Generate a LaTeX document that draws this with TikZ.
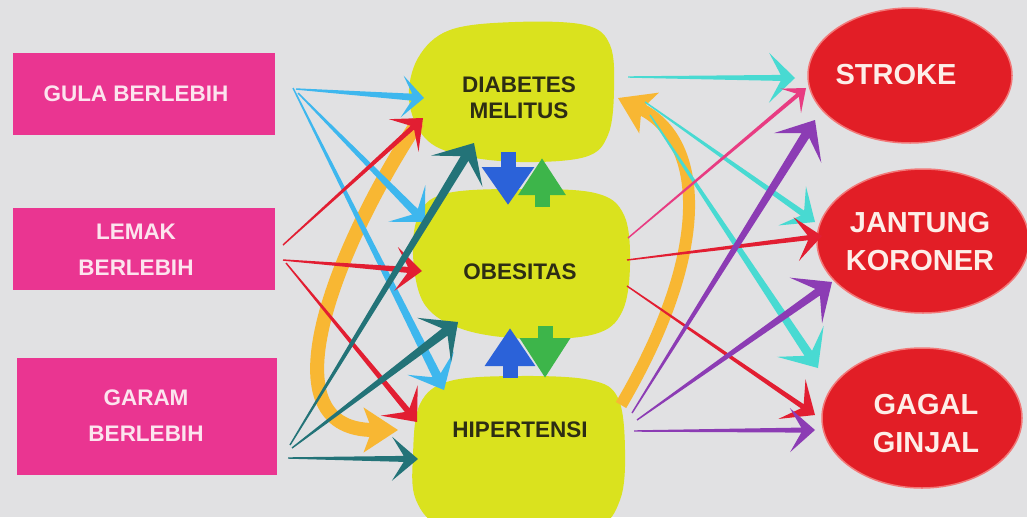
\documentclass[tikz,border=0pt]{standalone}
\usepackage{fontspec}
\setmainfont{Liberation Sans}
\usetikzlibrary{calc,shapes.geometric,arrows.meta}

\definecolor{bg}{RGB}{225,225,227}
\definecolor{pinkbox}{RGB}{234,53,145}
\definecolor{pinktxt}{RGB}{252,228,238}
\definecolor{blobc}{RGB}{218,226,30}
\definecolor{blobtxt}{RGB}{45,45,20}
\definecolor{redell}{RGB}{226,30,38}
\definecolor{redrim}{RGB}{242,120,120}
\definecolor{elltxt}{RGB}{253,238,232}
\definecolor{skyA}{RGB}{62,183,238}
\definecolor{redA}{RGB}{226,30,50}
\definecolor{tealA}{RGB}{35,115,120}
\definecolor{orangeA}{RGB}{248,183,51}
\definecolor{cyanA}{RGB}{72,218,210}
\definecolor{pinkA}{RGB}{232,60,130}
\definecolor{purpleA}{RGB}{140,60,180}
\definecolor{blueB}{RGB}{43,98,217}
\definecolor{greenB}{RGB}{61,181,74}

% tapered arrow: #1 colour, #2 from, #3 to, #4 end width, #5 head length, #6 head half width
\newcommand\taper[6]{%
\fill[#1] let \p1=(#2), \p2=(#3), \n1={atan2(\y2-\y1,\x2-\x1)} in
 ($(\p1)+(\n1+90:0.7)$)
 -- ($(\p2)+(\n1+180:0.55*#5)+(\n1+90:0.5*#4)$)
 -- ($(\p2)+(\n1+180:#5)+(\n1+90:#6)$)
 -- (\p2)
 -- ($(\p2)+(\n1+180:#5)+(\n1-90:#6)$)
 -- ($(\p2)+(\n1+180:0.55*#5)+(\n1-90:0.5*#4)$)
 -- ($(\p1)+(\n1-90:0.7)$) -- cycle;}

\begin{document}
\begin{tikzpicture}[x=1pt,y=1pt,
  causebox/.style={rectangle, fill=pinkbox, draw=none, inner sep=0pt},
  causetext/.style={text=pinktxt, font=\bfseries\fontsize{22.5}{36}\selectfont, align=center, inner sep=0pt},
  blobfill/.style={fill=blobc},
  blobtext/.style={text=blobtxt, font=\bfseries\fontsize{22.5}{26.5}\selectfont, align=center, inner sep=0pt},
  illness/.style={ellipse, fill=redell, draw=redrim, line width=1.5pt, inner sep=0pt},
  illtext/.style={text=elltxt, font=\bfseries\fontsize{29}{38}\selectfont, align=center, inner sep=0pt},
  orangearrow/.style={draw=orangeA, line width=14pt, -{Stealth[length=34pt,width=44pt,inset=8pt]}},
  blockarrow/.style={line width=15pt, -{Triangle[length=38pt,width=50pt]}}
]
\useasboundingbox (0,0) rectangle (1027,-517);
\fill[bg] (0,0) rectangle (1027,-517);

% cause boxes
\node[causebox, minimum width=262pt, minimum height=82pt] (gula) at (144,-94) {};
\node[causebox, minimum width=262pt, minimum height=82pt] (lemak) at (144,-249) {};
\node[causebox, minimum width=260pt, minimum height=117pt] (garam) at (147,-416.5) {};

% yellow blobs
\begin{scope}
\clip (0,0) rectangle (1027,-517);
\fill[blobfill] plot[smooth cycle, tension=0.6] coordinates {(409,-100) (418,-58) (450,-30) (515,-22) (585,-25) (610,-45) (614,-90) (608,-135) (585,-157) (520,-162) (460,-155) (425,-138)};
\fill[blobfill] plot[smooth cycle, tension=0.6] coordinates {(413,-255) (420,-212) (448,-193) (520,-189) (595,-193) (624,-215) (630,-265) (622,-312) (595,-334) (530,-339) (465,-330) (425,-305)};
\fill[blobfill] plot[smooth cycle, tension=0.6] coordinates {(413,-455) (420,-404) (450,-381) (520,-376) (590,-380) (618,-398) (625,-450) (620,-500) (595,-528) (520,-535) (445,-528) (416,-500)};
\end{scope}

% illness ellipses
\node[illness, minimum width=204pt, minimum height=135pt] (stroke) at (910,-75.5) {};
\node[illness, minimum width=212pt, minimum height=144pt] (jantung) at (923,-241) {};
\node[illness, minimum width=200pt, minimum height=140pt] (gagal) at (922,-418) {};

% connector end points
\coordinate (gS1) at (296,-89);  \coordinate (dmL1) at (424,-98);
\coordinate (gS2) at (298,-93);  \coordinate (obL1) at (425,-222);
\coordinate (gS3) at (293,-88);  \coordinate (hiL1) at (444,-390);
\coordinate (lS1) at (283,-245); \coordinate (dmL2) at (423,-118);
\coordinate (lS2) at (283,-260); \coordinate (obL2) at (422,-271);
\coordinate (lS3) at (286,-263); \coordinate (hiL2) at (417,-422);
\coordinate (rS1) at (290,-445); \coordinate (dmL3) at (474,-143);
\coordinate (rS2) at (292,-448); \coordinate (obL3) at (458,-322);
\coordinate (rS3) at (288,-458); \coordinate (hiL3) at (418,-459);
\coordinate (dmR1) at (628,-77);  \coordinate (stA) at (795,-78);
\coordinate (dmR2) at (645,-102); \coordinate (jaA) at (815,-222);
\coordinate (dmR3) at (650,-115); \coordinate (ggA) at (818,-368);
\coordinate (obR1) at (628,-238); \coordinate (stB) at (806,-88);
\coordinate (obR2) at (627,-260); \coordinate (jaB) at (822,-236);
\coordinate (obR3) at (627,-286); \coordinate (ggB) at (815,-415);
\coordinate (hiR1) at (632,-413); \coordinate (stC) at (815,-120);
\coordinate (hiR2) at (637,-420); \coordinate (jaC) at (832,-282);
\coordinate (hiR3) at (634,-431); \coordinate (ggC) at (815,-430);
\coordinate (dmLo) at (418,-122); \coordinate (hiLo) at (398,-430);
\coordinate (hiRo) at (621,-405); \coordinate (dmRo) at (618,-98);

% orange loop arrows
\draw[orangearrow] (dmLo) .. controls (340,-240) and (260,-430) .. (hiLo);
\draw[orangearrow, line width=12pt] (hiRo) .. controls (712,-250) and (705,-140) .. (dmRo);

% cause arrows
\taper{skyA}{gS1}{dmL1}{7}{22}{21}
\taper{skyA}{gS2}{obL1}{8}{26}{26}
\taper{skyA}{gS3}{hiL1}{9}{30}{26}
\taper{redA}{lS1}{dmL2}{5}{26}{22}
\taper{redA}{lS2}{obL2}{6}{26}{22}
\taper{redA}{lS3}{hiL2}{6}{28}{24}
\taper{tealA}{rS1}{dmL3}{9}{33}{30}
\taper{tealA}{rS2}{obL3}{9}{30}{28}
\taper{tealA}{rS3}{hiL3}{6}{26}{22}

% effect arrows
\taper{cyanA}{dmR1}{stA}{6}{26}{25}
\taper{cyanA}{dmR2}{jaA}{6}{28}{24}
\taper{cyanA}{dmR3}{ggA}{9}{32}{28}
\taper{pinkA}{obR1}{stB}{4}{20}{16}
\taper{redA}{obR2}{jaB}{5}{26}{22}
\taper{redA}{obR3}{ggB}{5}{28}{24}
\taper{purpleA}{hiR1}{stC}{9}{33}{28}
\taper{purpleA}{hiR2}{jaC}{8}{32}{28}
\taper{purpleA}{hiR3}{ggC}{5}{25}{22}

% block arrows between blobs
\coordinate (b1s) at (508,-152); \coordinate (b1e) at (508,-205);
\coordinate (g1s) at (542,-207); \coordinate (g1e) at (542,-158);
\coordinate (b2s) at (510,-378); \coordinate (b2e) at (510,-328);
\coordinate (g2s) at (545,-326); \coordinate (g2e) at (545,-378);
\draw[blockarrow, draw=blueB, fill=blueB] (b1s) -- (b1e);
\draw[blockarrow, draw=greenB, fill=greenB, -{Triangle[length=37pt,width=45pt]}] (g1s) -- (g1e);
\draw[blockarrow, draw=blueB, fill=blueB, -{Triangle[length=38pt,width=48pt]}] (b2s) -- (b2e);
\draw[blockarrow, draw=greenB, fill=greenB, -{Triangle[length=40pt,width=48pt]}] (g2s) -- (g2e);

% texts
\node[causetext] (gulaT) at (136,-94) {GULA BERLEBIH};
\node[causetext] (lemakT) at (136,-250) {LEMAK\\BERLEBIH};
\node[causetext] (garamT) at (146,-416) {GARAM\\BERLEBIH};
\node[blobtext] (dm) at (519,-98) {DIABETES\\MELITUS};
\node[blobtext] (ob) at (520,-272) {OBESITAS};
\node[blobtext] (hi) at (520,-430) {HIPERTENSI};
\node[illtext] (strokeT) at (896,-75) {STROKE};
\node[illtext] (jantungT) at (920,-242) {JANTUNG\\KORONER};
\node[illtext] (gagalT) at (926,-423.5) {GAGAL\\GINJAL};
\end{tikzpicture}
\end{document}
